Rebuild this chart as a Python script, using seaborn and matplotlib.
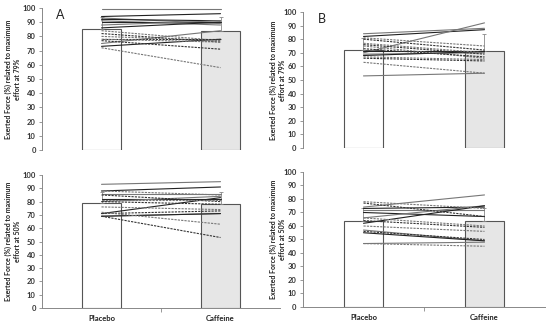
import numpy as np
import pandas as pd
import seaborn as sns
import matplotlib.pyplot as plt

sns.set_style('white')
plt.rcParams['font.family'] = ['Lato', 'DejaVu Sans']

conditions = ['Placebo', 'Caffeine']

# Panel A, 79%
a79_means = [85, 84]
a79_err = [9, 10]
a79_solid_pla = [99, 94, 93, 92, 91, 90, 88, 86, 75, 73]
a79_solid_caf = [99, 96, 89, 91, 88, 90, 91, 90, 84, 78]
a79_dash_pla = [84, 82, 80, 78, 78, 77, 72]
a79_dash_caf = [77, 76, 77, 78, 76, 71, 58]

# Panel B, 79%
b79_means = [72, 71.5]
b79_err = [9, 12.5]
b79_solid_pla = [84, 82, 70, 71, 69, 68, 53]
b79_solid_caf = [88, 87, 92, 71, 70, 71, 55]
b79_dash_pla = [81, 80, 77, 76, 75, 73, 67, 66, 63]
b79_dash_caf = [75, 72, 70, 69, 66, 67, 65, 64, 55]

# Panel A, 50%
a50_means = [79, 78]
a50_err = [8, 9]
a50_solid_pla = [93, 88, 86, 82, 80, 71, 69, 69]
a50_solid_caf = [95, 91, 86, 82, 84, 83, 71, 71]
a50_dash_pla = [88, 85, 81, 80, 76, 71, 72, 69]
a50_dash_caf = [85, 80, 81, 78, 74, 73, 63, 53]

# Panel B, 50%
b50_means = [64, 64]
b50_err = [9, 9]
b50_solid_pla = [74, 73, 72, 70, 66, 62, 57, 55, 47]
b50_solid_caf = [83, 74, 72, 67, 75, 75, 49, 49, 48]
b50_dash_pla = [78, 77, 66, 64, 60, 56, 47]
b50_dash_caf = [73, 67, 60, 59, 56, 50, 45]

fig = plt.figure(figsize=(5.5, 3.25), dpi=100)

panels = [
    ([0.0764, 0.5385, 0.4327, 0.4369], a79_means, a79_err, a79_solid_pla, a79_solid_caf,
     a79_dash_pla, a79_dash_caf, 'effort at 79%', 'A', False, -0.088),
    ([0.5509, 0.5446, 0.4400, 0.4185], b79_means, b79_err, b79_solid_pla, b79_solid_caf,
     b79_dash_pla, b79_dash_caf, 'effort at 79%', 'B', False, -0.072),
    ([0.0764, 0.0523, 0.4327, 0.4092], a50_means, a50_err, a50_solid_pla, a50_solid_caf,
     a50_dash_pla, a50_dash_caf, 'effort at 50%', None, True, -0.088),
    ([0.5509, 0.0554, 0.4400, 0.4154], b50_means, b50_err, b50_solid_pla, b50_solid_caf,
     b50_dash_pla, b50_dash_caf, 'effort at 50%', None, True, -0.072),
]

for pos, means, err, s_pla, s_caf, d_pla, d_caf, lab, letter, show_x, lx in panels:
    ax = fig.add_axes(pos)
    df = pd.DataFrame({'cond': conditions, 'force': means})
    sns.barplot(data=df, x='cond', y='force', order=conditions, width=0.32,
                palette=['white', '#e6e6e6'], hue='cond', legend=False,
                edgecolor='#555555', linewidth=0.8, errorbar=None, ax=ax)
    ax.errorbar([0, 1], means, yerr=[[0, 0], err], fmt='none', ecolor='#888888',
                elinewidth=0.6, capsize=1.5, capthick=0.6, zorder=3)
    for i, (p, c) in enumerate(zip(s_pla, s_caf)):
        col = '#222222' if i % 2 else '#777777'
        ax.plot([0, 1], [p, c], color=col, lw=0.8, zorder=4)
    for i, (p, c) in enumerate(zip(d_pla, d_caf)):
        col = '#333333' if i % 2 else '#777777'
        ax.plot([0, 1], [p, c], color=col, lw=0.8, ls=(0, (2, 1)), zorder=4)

    ax.set_xlim(-0.5, 1.5)
    ax.set_ylim(0, 100)
    ax.set_yticks(range(0, 101, 10))
    ax.tick_params(axis='y', labelsize=5.5, labelcolor='#333333', length=2.5,
                   width=0.6, color='#888888', pad=2, left=True)
    for t in ax.get_yticklabels():
        t.set_fontweight('bold')
    sns.despine(ax=ax, top=True, right=True, bottom=not show_x)
    ax.spines['left'].set_color('#888888')
    ax.spines['left'].set_linewidth(0.7)
    if show_x:
        ax.spines['bottom'].set_color('#888888')
        ax.spines['bottom'].set_linewidth(0.7)
        ax.set_xticks([0, 1])
        ax.set_xticklabels(conditions, fontsize=5.5, fontweight='bold', color='#222222')
        ax.set_xticks([0.5], minor=True)
        ax.tick_params(axis='x', which='major', length=0, pad=5)
        ax.tick_params(axis='x', which='minor', length=3, width=0.6,
                       color='#888888', bottom=True)
    else:
        ax.set_xticks([])
    ax.set_xlabel('')
    ax.set_ylabel('Exerted Force (%) related to maximum\n' + lab, fontsize=5,
                  fontweight='bold', color='#222222', linespacing=1.3)
    ax.yaxis.set_label_coords(lx, 0.5)
    if letter:
        ax.text(0.06, 0.99, letter, transform=ax.transAxes, fontsize=9,
                va='top', ha='left', color='#222222')

fig.savefig('out.png', dpi=100)
